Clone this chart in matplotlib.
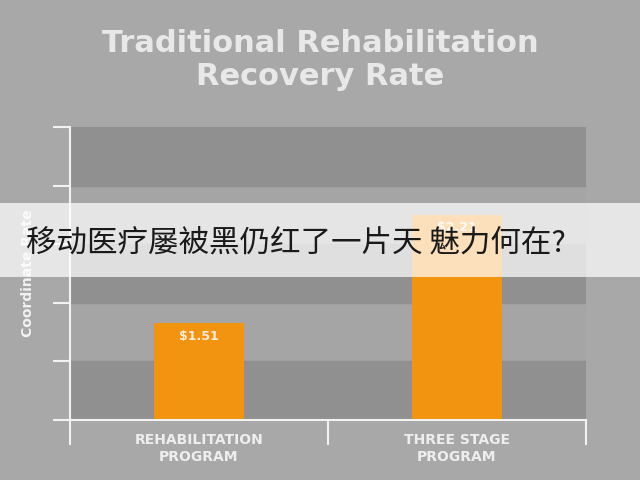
import matplotlib.pyplot as plt
import matplotlib.patches as mpatches

categories = ['REHABILITATION\nPROGRAM', 'THREE STAGE\nPROGRAM']
heights = [1.65, 3.5]
bar_labels = ['$1.51', '$2.21']
banner_text = '移动医疗屡被黑仍红了一片天 魅力何在?'

plt.rcParams['font.family'] = ['Noto Sans CJK SC', 'DejaVu Sans']

fig = plt.figure(figsize=(6.4, 4.8), dpi=100)
fig.patch.set_facecolor('#a8a8a8')
ax = fig.add_axes([70/640, 60/480, 516/640, 293/480])
ax.set_facecolor('#a5a5a5')
ax.set_xlim(-0.5, 1.5)
ax.set_ylim(0, 5)

# alternating bands
for i in range(0, 5, 2):
    ax.axhspan(i, i + 1, color='#909090', zorder=0)

x = range(len(categories))
ax.bar(x, heights, width=0.35, color='#f39410', zorder=2)
for xi, h, lab in zip(x, heights, bar_labels):
    ax.text(xi, h - 0.22, lab, ha='center', va='center', color='#fbeede',
            fontsize=9, fontweight='bold', family='DejaVu Sans', zorder=3)

for s in ['top', 'right']:
    ax.spines[s].set_visible(False)
for s in ['left', 'bottom']:
    ax.spines[s].set_color('#f2f2f2')
    ax.spines[s].set_linewidth(1.5)
ax.set_yticks(range(6))
ax.set_yticklabels([])
ax.set_xticks([-0.5, 0.5, 1.5])
ax.set_xticklabels([])
ax.tick_params(axis='y', length=12, width=1.5, color='#f2f2f2')
ax.tick_params(axis='x', length=18, width=1.5, color='#f2f2f2')
for xi, c in zip(x, categories):
    ax.text(xi, -0.22, c, ha='center', va='top', color='#eeeeee', fontsize=10,
            fontweight='bold', family='DejaVu Sans', linespacing=1.3)
ax.set_ylabel('Coordinate Rate', color='#f2f2f2', fontsize=10, fontweight='bold',
              family='DejaVu Sans', labelpad=10)

fig.text(0.5, 0.875, 'Traditional Rehabilitation\nRecovery Rate', ha='center',
         va='center', color='#e8e8e8', fontsize=22, fontweight='bold',
         family='DejaVu Sans', linespacing=1.2)

fig.add_artist(mpatches.Rectangle((0, 203/480), 1, 74/480, transform=fig.transFigure,
                                  facecolor='white', alpha=0.72, edgecolor='none', zorder=10))
fig.text(26/640, 1 - 243/480, banner_text, ha='left', va='center', color='#1a1a1a',
         fontsize=22, zorder=11)

fig.savefig('out.png', dpi=100, facecolor=fig.get_facecolor())
